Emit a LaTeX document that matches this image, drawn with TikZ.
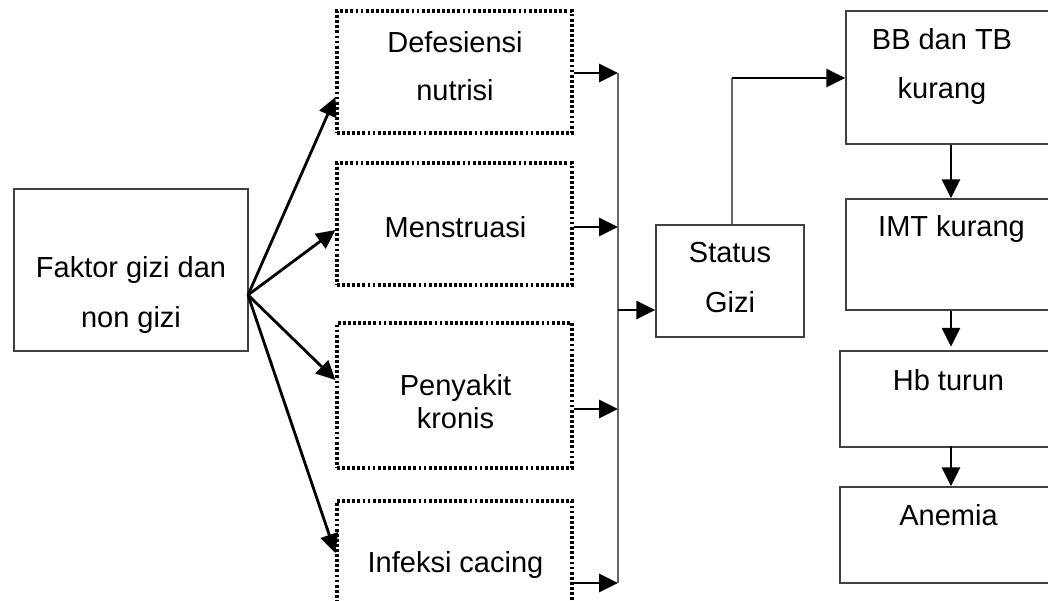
\documentclass[tikz,border=0pt]{standalone}
\usepackage{fontspec}
\setmainfont{Liberation Sans}
\usetikzlibrary{arrows.meta}

\tikzset{
  kotak/.style={draw=black!75, line width=0.8pt, inner sep=0pt},
  kotaktitik/.style={draw=black, line width=1.8pt, dash pattern=on 1.6pt off 1.3pt, inner sep=0pt},
  ukuran/.style 2 args={minimum width=#1*0.02cm, minimum height=#2*0.02cm},
  teks/.style={align=center, inner sep=0pt, font=\fontsize{16.5}{#1}\selectfont},
  teks/.default=19,
  panah/.style={line width=1.6pt, -{Triangle[length=0.38cm,width=0.36cm]}},
  garis/.style={draw=black!60, line width=0.8pt},
}

\begin{document}
\begin{tikzpicture}[x=0.02cm,y=-0.02cm]
          \useasboundingbox (0,0) rectangle (1048,600);
          \clip (0,0) rectangle (1048,600);
          % kotak
          \node[kotak,ukuran={234}{162}] (faktor) at (131,270) {};
          \node[kotaktitik,ukuran={235}{122}] (defisiensi) at (454.5,72) {};
          \node[kotaktitik,ukuran={235}{122}] (menstruasi) at (454.5,224) {};
          \node[kotaktitik,ukuran={235}{145}] (penyakit) at (454.5,395.5) {};
          \node[kotaktitik,ukuran={235}{129}] (infeksi) at (454.5,565.5) {};
          \node[kotak,ukuran={148}{112}] (status) at (730,281) {};
          \node[kotak,ukuran={214}{133}] (bb) at (953,77.5) {};
          \node[kotak,ukuran={214}{111}] (imt) at (953,254.5) {};
          \node[kotak,ukuran={220}{96}] (hb) at (950,399) {};
          \node[kotak,ukuran={220}{96}] (anemia) at (950,535) {};
          % teks
          \node[teks=28.4] (tfaktor) at (131,295) {Faktor gizi dan\\non gizi};
          \node[teks=27.3] (tdefisiensi) at (455,66.5) {Defesiensi\\nutrisi};
          \node[teks] (tmenstruasi) at (455.5,227) {Menstruasi};
          \node[teks] (tpenyakit) at (455.5,401.5) {Penyakit\\kronis};
          \node[teks] (tinfeksi) at (455.5,565) {Infeksi cacing};
          \node[teks=28.4] (tstatus) at (730,277.5) {Status\\Gizi};
          \node[teks=28.4] (tbb) at (942,66.5) {BB dan TB\\kurang};
          \node[teks] (timt) at (951.5,229) {IMT kurang};
          \node[teks] (thb) at (948.5,380) {Hb turun};
          \node[teks] (tanemia) at (948.5,515) {Anemia};
          % titik bantu
          \coordinate (pusat) at (248,295);
          \coordinate (b1) at (618,73);
          \coordinate (b2) at (618,227);
          \coordinate (b3) at (618,409);
          \coordinate (b4) at (618,583);
          \coordinate (b5) at (618,310);
          \coordinate (belok) at (732,78);
          \coordinate (sumbu) at (951,0);
          % panah kipas
          \draw[panah] (pusat) -- (defisiensi.west |- 0,97);
          \draw[panah] (pusat) -- (menstruasi.west |- 0,230);
          \draw[panah] (pusat) -- (penyakit.west |- 0,380);
          \draw[panah] (pusat) -- (infeksi.west |- 0,553);
          % ke garis kumpul
          \foreach \k/\b in {defisiensi/b1,menstruasi/b2,penyakit/b3,infeksi/b4}{
            \draw[panah] (\k.east |- \b) -- (\b);}
          \draw[garis] (b1) -- (b4);
          \draw[panah] (b5) -- (status.west |- b5);
          \draw[garis] (status.north -| belok) -- (belok);
          \draw[panah] (belok) -- (bb.west |- belok);
          % kolom kanan
          \draw[panah] (bb.south -| sumbu) -- (imt.north -| sumbu);
          \draw[panah] (imt.south -| sumbu) -- ([yshift=2pt]hb.north -| sumbu);
          \draw[panah] ([yshift=1pt]hb.south -| sumbu) -- (anemia.north -| sumbu);
        \end{tikzpicture}
\end{document}
